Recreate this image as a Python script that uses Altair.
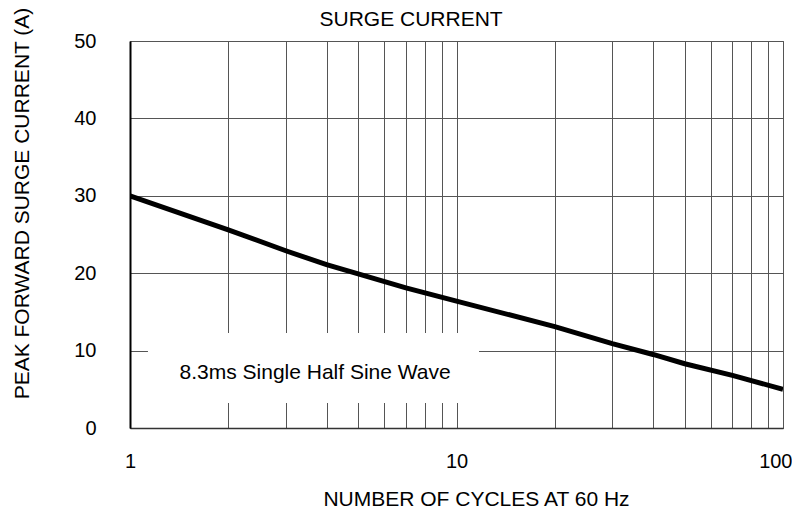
import altair as alt
import pandas as pd

# ---- data ----
cycles = [1, 2, 3, 4, 5, 7, 10, 20, 30, 40, 50, 70, 100]
current = [30.0, 25.6, 22.9, 21.1, 19.9, 18.1, 16.4, 13.1, 10.9, 9.5, 8.3, 6.8, 5.0]

x_grid = [1, 2, 3, 4, 5, 6, 7, 8, 9, 10, 20, 30, 40, 50, 60, 70, 80, 90, 100]
x_labels = [1, 10, 100]
y_ticks = [0, 10, 20, 30, 40, 50]

note_text = ["8.3ms Single Half Sine Wave"]
note_x = [3.69]
note_y = [6.3]
box_x = [1.135]
box_x2 = [11.72]
box_y = [3.23]
box_y2 = [12.27]

title_text = ["SURGE CURRENT"]
title_x = [7.26]
title_y = [52.0]
x_title = "NUMBER OF CYCLES AT 60 Hz"
y_title = "PEAK FORWARD SURGE CURRENT (A)"

FONT = "Liberation Sans"

curve = pd.DataFrame({"cycles": cycles, "current": current})
note = pd.DataFrame({"cycles": note_x, "current": note_y, "t": note_text})
head = pd.DataFrame({"cycles": title_x, "current": title_y, "t": title_text})
box = pd.DataFrame({"cycles": box_x, "x2": box_x2, "current": box_y, "y2": box_y2})

xs = alt.Scale(type="log", domain=[1, 100], nice=False)
ys = alt.Scale(domain=[0, 50], nice=False, zero=True)

label_expr = "datum.value == 1 || datum.value == 10 || datum.value == 100 ? datum.label : ''"

x_axis = alt.Axis(
    values=x_grid, labelExpr=label_expr, format="d", title=x_title,
    labelOverlap=False, labelFlush=False, ticks=False, tickSize=0,
    labelAlign={"condition": {"test": "datum.value == 100", "value": "right"}, "value": "center"},
    labelOffset={"condition": {"test": "datum.value == 100", "value": 9}, "value": 0},
    labelPadding=23, labelFontSize=20, labelFont=FONT, labelColor="black",
    grid=True, gridColor="#555555", gridWidth=1,
    domainColor="#333333", domainWidth=1.5,
    titleFont=FONT, titleFontSize=21, titleFontWeight="normal", titleColor="black",
    titleX=346, titleY=77, titleAlign="center", titleBaseline="alphabetic",
)
y_axis = alt.Axis(
    values=y_ticks, format="d", title=y_title,
    ticks=False, tickSize=0, labelPadding=34, labelFontSize=20, labelFont=FONT,
    labelColor="black", labelFlush=False, labelOverlap=False,
    grid=True, gridColor="#555555", gridWidth=1,
    domainColor="black", domainWidth=2,
    titleFont=FONT, titleFontSize=21, titleFontWeight="normal", titleColor="black",
    titleX=-102, titleY=162, titleAngle=270, titleAlign="center", titleBaseline="alphabetic",
)

X = alt.X("cycles:Q", scale=xs, axis=x_axis, title=x_title)
Y = alt.Y("current:Q", scale=ys, axis=y_axis, title=y_title)

rect = alt.Chart(box).mark_rect(fill="white").encode(
    x=X, x2="x2:Q", y=Y, y2="y2:Q",
)

line = alt.Chart(curve).mark_line(color="black", strokeWidth=5, clip=True, strokeCap="butt").encode(
    x=X, y=Y,
)

label = alt.Chart(note).mark_text(
    font=FONT, fontSize=21, color="black", align="center", baseline="alphabetic"
).encode(
    x=X, y=Y, text="t:N",
)

heading = alt.Chart(head).mark_text(
    font=FONT, fontSize=21, color="black", align="center", baseline="alphabetic"
).encode(
    x=X, y=Y, text="t:N",
)

chart = alt.layer(rect, line, label, heading).properties(
    width=653,
    height=387,
    padding={"left": 122, "top": 33, "right": 9, "bottom": 82},
    autosize=alt.AutoSizeParams(type="none"),
).configure_view(stroke="#555555", strokeWidth=1)

chart.save("out.html", embed_options={"renderer": "svg", "actions": False})
